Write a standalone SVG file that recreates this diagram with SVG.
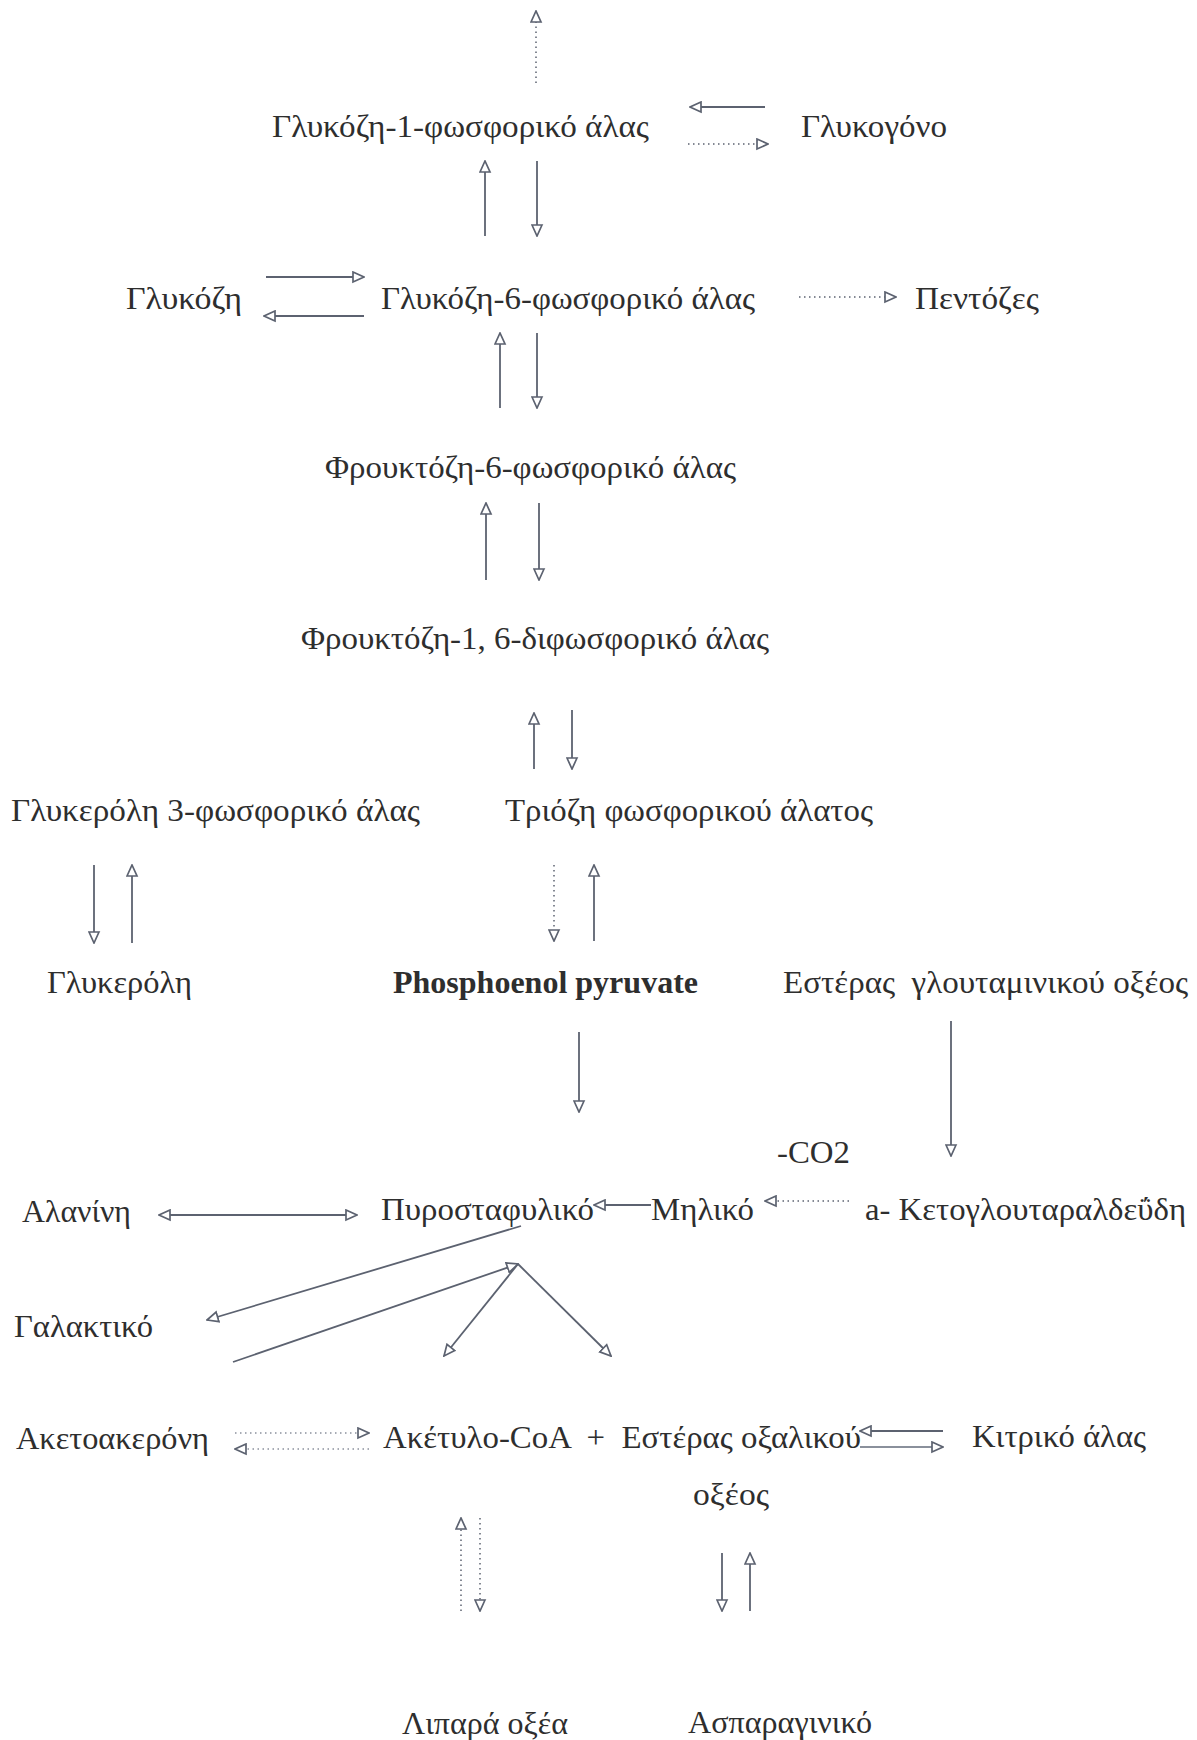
<svg xmlns="http://www.w3.org/2000/svg" width="1197" height="1740" viewBox="0 0 1197 1740">
<style>
text{font-family:"Liberation Serif","Times New Roman",serif;font-size:32px;fill:#2e2e2e}
.b{font-weight:bold}
.c{fill:none;stroke:#5c6270;stroke-width:1.8}
.l{stroke:#8a909c}
.d{stroke-dasharray:1.5 3.5;stroke-width:1.5}
</style>
<defs>
<marker id="ah" viewBox="0 0 13 13" refX="12" refY="6.5" markerWidth="13" markerHeight="13" markerUnits="userSpaceOnUse" orient="auto-start-reverse">
<path d="M1,1.5 L12,6.5 L1,11.5 z" fill="#fff" stroke="#5c6270" stroke-width="1.7"/>
</marker>
</defs>
<rect width="1197" height="1740" fill="#fff"/>
<g id="connectors">
<line class="c d" x1="536" y1="83" x2="536" y2="11" marker-end="url(#ah)"/>
<line class="c" x1="765" y1="107" x2="690" y2="107" marker-end="url(#ah)"/>
<line class="c d" x1="688" y1="144" x2="768" y2="144" marker-end="url(#ah)"/>
<line class="c" x1="485" y1="236" x2="485" y2="161" marker-end="url(#ah)"/>
<line class="c" x1="537" y1="161" x2="537" y2="236" marker-end="url(#ah)"/>
<line class="c" x1="266" y1="277" x2="364" y2="277" marker-end="url(#ah)"/>
<line class="c" x1="364" y1="316" x2="264" y2="316" marker-end="url(#ah)"/>
<line class="c d" x1="799" y1="297" x2="896" y2="297" marker-end="url(#ah)"/>
<line class="c" x1="500" y1="408" x2="500" y2="333" marker-end="url(#ah)"/>
<line class="c" x1="537" y1="333" x2="537" y2="408" marker-end="url(#ah)"/>
<line class="c" x1="486" y1="580" x2="486" y2="503" marker-end="url(#ah)"/>
<line class="c" x1="539" y1="503" x2="539" y2="580" marker-end="url(#ah)"/>
<line class="c" x1="534" y1="769" x2="534" y2="713" marker-end="url(#ah)"/>
<line class="c" x1="572" y1="710" x2="572" y2="769" marker-end="url(#ah)"/>
<line class="c" x1="94" y1="865" x2="94" y2="943" marker-end="url(#ah)"/>
<line class="c" x1="132" y1="943" x2="132" y2="865" marker-end="url(#ah)"/>
<line class="c d" x1="554" y1="865" x2="554" y2="941" marker-end="url(#ah)"/>
<line class="c" x1="594" y1="941" x2="594" y2="865" marker-end="url(#ah)"/>
<line class="c" x1="579" y1="1032" x2="579" y2="1112" marker-end="url(#ah)"/>
<line class="c" x1="951" y1="1021" x2="951" y2="1156" marker-end="url(#ah)"/>
<line class="c d" x1="849" y1="1201" x2="765" y2="1201" marker-end="url(#ah)"/>
<line class="c" x1="651" y1="1205" x2="594" y2="1205" marker-end="url(#ah)"/>
<line class="c" x1="159" y1="1215" x2="357" y2="1215" marker-start="url(#ah)" marker-end="url(#ah)"/>
<line class="c" x1="521" y1="1226" x2="207" y2="1320" marker-end="url(#ah)"/>
<line class="c" x1="233" y1="1362" x2="518" y2="1264" marker-end="url(#ah)"/>
<line class="c" x1="518" y1="1264" x2="444" y2="1356" marker-end="url(#ah)"/>
<line class="c" x1="518" y1="1264" x2="611" y2="1356" marker-end="url(#ah)"/>
<line class="c d l" x1="235" y1="1433" x2="369" y2="1433" marker-end="url(#ah)"/>
<line class="c d l" x1="369" y1="1449" x2="235" y2="1449" marker-end="url(#ah)"/>
<line class="c" x1="943" y1="1431" x2="860" y2="1431" marker-end="url(#ah)"/>
<line class="c l" x1="860" y1="1447" x2="943" y2="1447" marker-end="url(#ah)"/>
<line class="c d" x1="461" y1="1611" x2="461" y2="1518" marker-end="url(#ah)"/>
<line class="c d" x1="480" y1="1518" x2="480" y2="1611" marker-end="url(#ah)"/>
<line class="c" x1="722" y1="1553" x2="722" y2="1611" marker-end="url(#ah)"/>
<line class="c" x1="750" y1="1611" x2="750" y2="1553" marker-end="url(#ah)"/>
</g>
<g id="g1p"><text x="272" y="137" textLength="377" lengthAdjust="spacingAndGlyphs">Γλυκόζη-1-φωσφορικό άλας</text></g>
<g id="glycogen"><text x="801" y="137" textLength="146" lengthAdjust="spacingAndGlyphs">Γλυκογόνο</text></g>
<g id="glucose"><text x="126" y="309" textLength="116" lengthAdjust="spacingAndGlyphs">Γλυκόζη</text></g>
<g id="g6p"><text x="381" y="309" textLength="374" lengthAdjust="spacingAndGlyphs">Γλυκόζη-6-φωσφορικό άλας</text></g>
<g id="pentoses"><text x="915" y="309" textLength="124" lengthAdjust="spacingAndGlyphs">Πεντόζες</text></g>
<g id="f6p"><text x="325" y="478" textLength="411" lengthAdjust="spacingAndGlyphs">Φρουκτόζη-6-φωσφορικό άλας</text></g>
<g id="f16bp"><text x="301" y="649" textLength="468" lengthAdjust="spacingAndGlyphs">Φρουκτόζη-1, 6-διφωσφορικό άλας</text></g>
<g id="gly3p"><text x="11" y="821" textLength="409" lengthAdjust="spacingAndGlyphs">Γλυκερόλη 3-φωσφορικό άλας</text></g>
<g id="triose"><text x="505" y="821" textLength="368" lengthAdjust="spacingAndGlyphs">Τριόζη φωσφορικού άλατος</text></g>
<g id="glycerol"><text x="47" y="993" textLength="145" lengthAdjust="spacingAndGlyphs">Γλυκερόλη</text></g>
<g id="pep"><text class="b" x="393" y="993" textLength="305" lengthAdjust="spacingAndGlyphs">Phosphoenol pyruvate</text></g>
<g id="glutamate"><text x="783" y="993" xml:space="preserve" textLength="405" lengthAdjust="spacingAndGlyphs">Εστέρας  γλουταμινικού οξέος</text></g>
<g id="co2"><text x="777" y="1163" textLength="73" lengthAdjust="spacingAndGlyphs">-CO2</text></g>
<g id="alanine"><text x="22" y="1222" textLength="109" lengthAdjust="spacingAndGlyphs">Αλανίνη</text></g>
<g id="pyruvate"><text x="381" y="1220" textLength="213" lengthAdjust="spacingAndGlyphs">Πυροσταφυλικό</text></g>
<g id="malate"><text x="651" y="1220" textLength="103" lengthAdjust="spacingAndGlyphs">Μηλικό</text></g>
<g id="ketoglutaraldehyde"><text x="865" y="1220" textLength="321" lengthAdjust="spacingAndGlyphs">a- Κετογλουταραλδεΰδη</text></g>
<g id="lactate"><text x="14" y="1337" textLength="139" lengthAdjust="spacingAndGlyphs">Γαλακτικό</text></g>
<g id="acetoacetone"><text x="16" y="1449" textLength="193" lengthAdjust="spacingAndGlyphs">Ακετοακερόνη</text></g>
<g id="acetylcoa"><text x="383" y="1448" xml:space="preserve" textLength="478" lengthAdjust="spacingAndGlyphs">Ακέτυλο-CoA  +  Εστέρας οξαλικού</text></g>
<g id="citrate"><text x="972" y="1447" textLength="174" lengthAdjust="spacingAndGlyphs">Κιτρικό άλας</text></g>
<g id="oxalo2"><text x="693" y="1505" textLength="76" lengthAdjust="spacingAndGlyphs">οξέος</text></g>
<g id="fattyacids"><text x="402" y="1734" textLength="166" lengthAdjust="spacingAndGlyphs">Λιπαρά οξέα</text></g>
<g id="asparagine"><text x="688" y="1733" textLength="184" lengthAdjust="spacingAndGlyphs">Ασπαραγινικό</text></g>
</svg>
